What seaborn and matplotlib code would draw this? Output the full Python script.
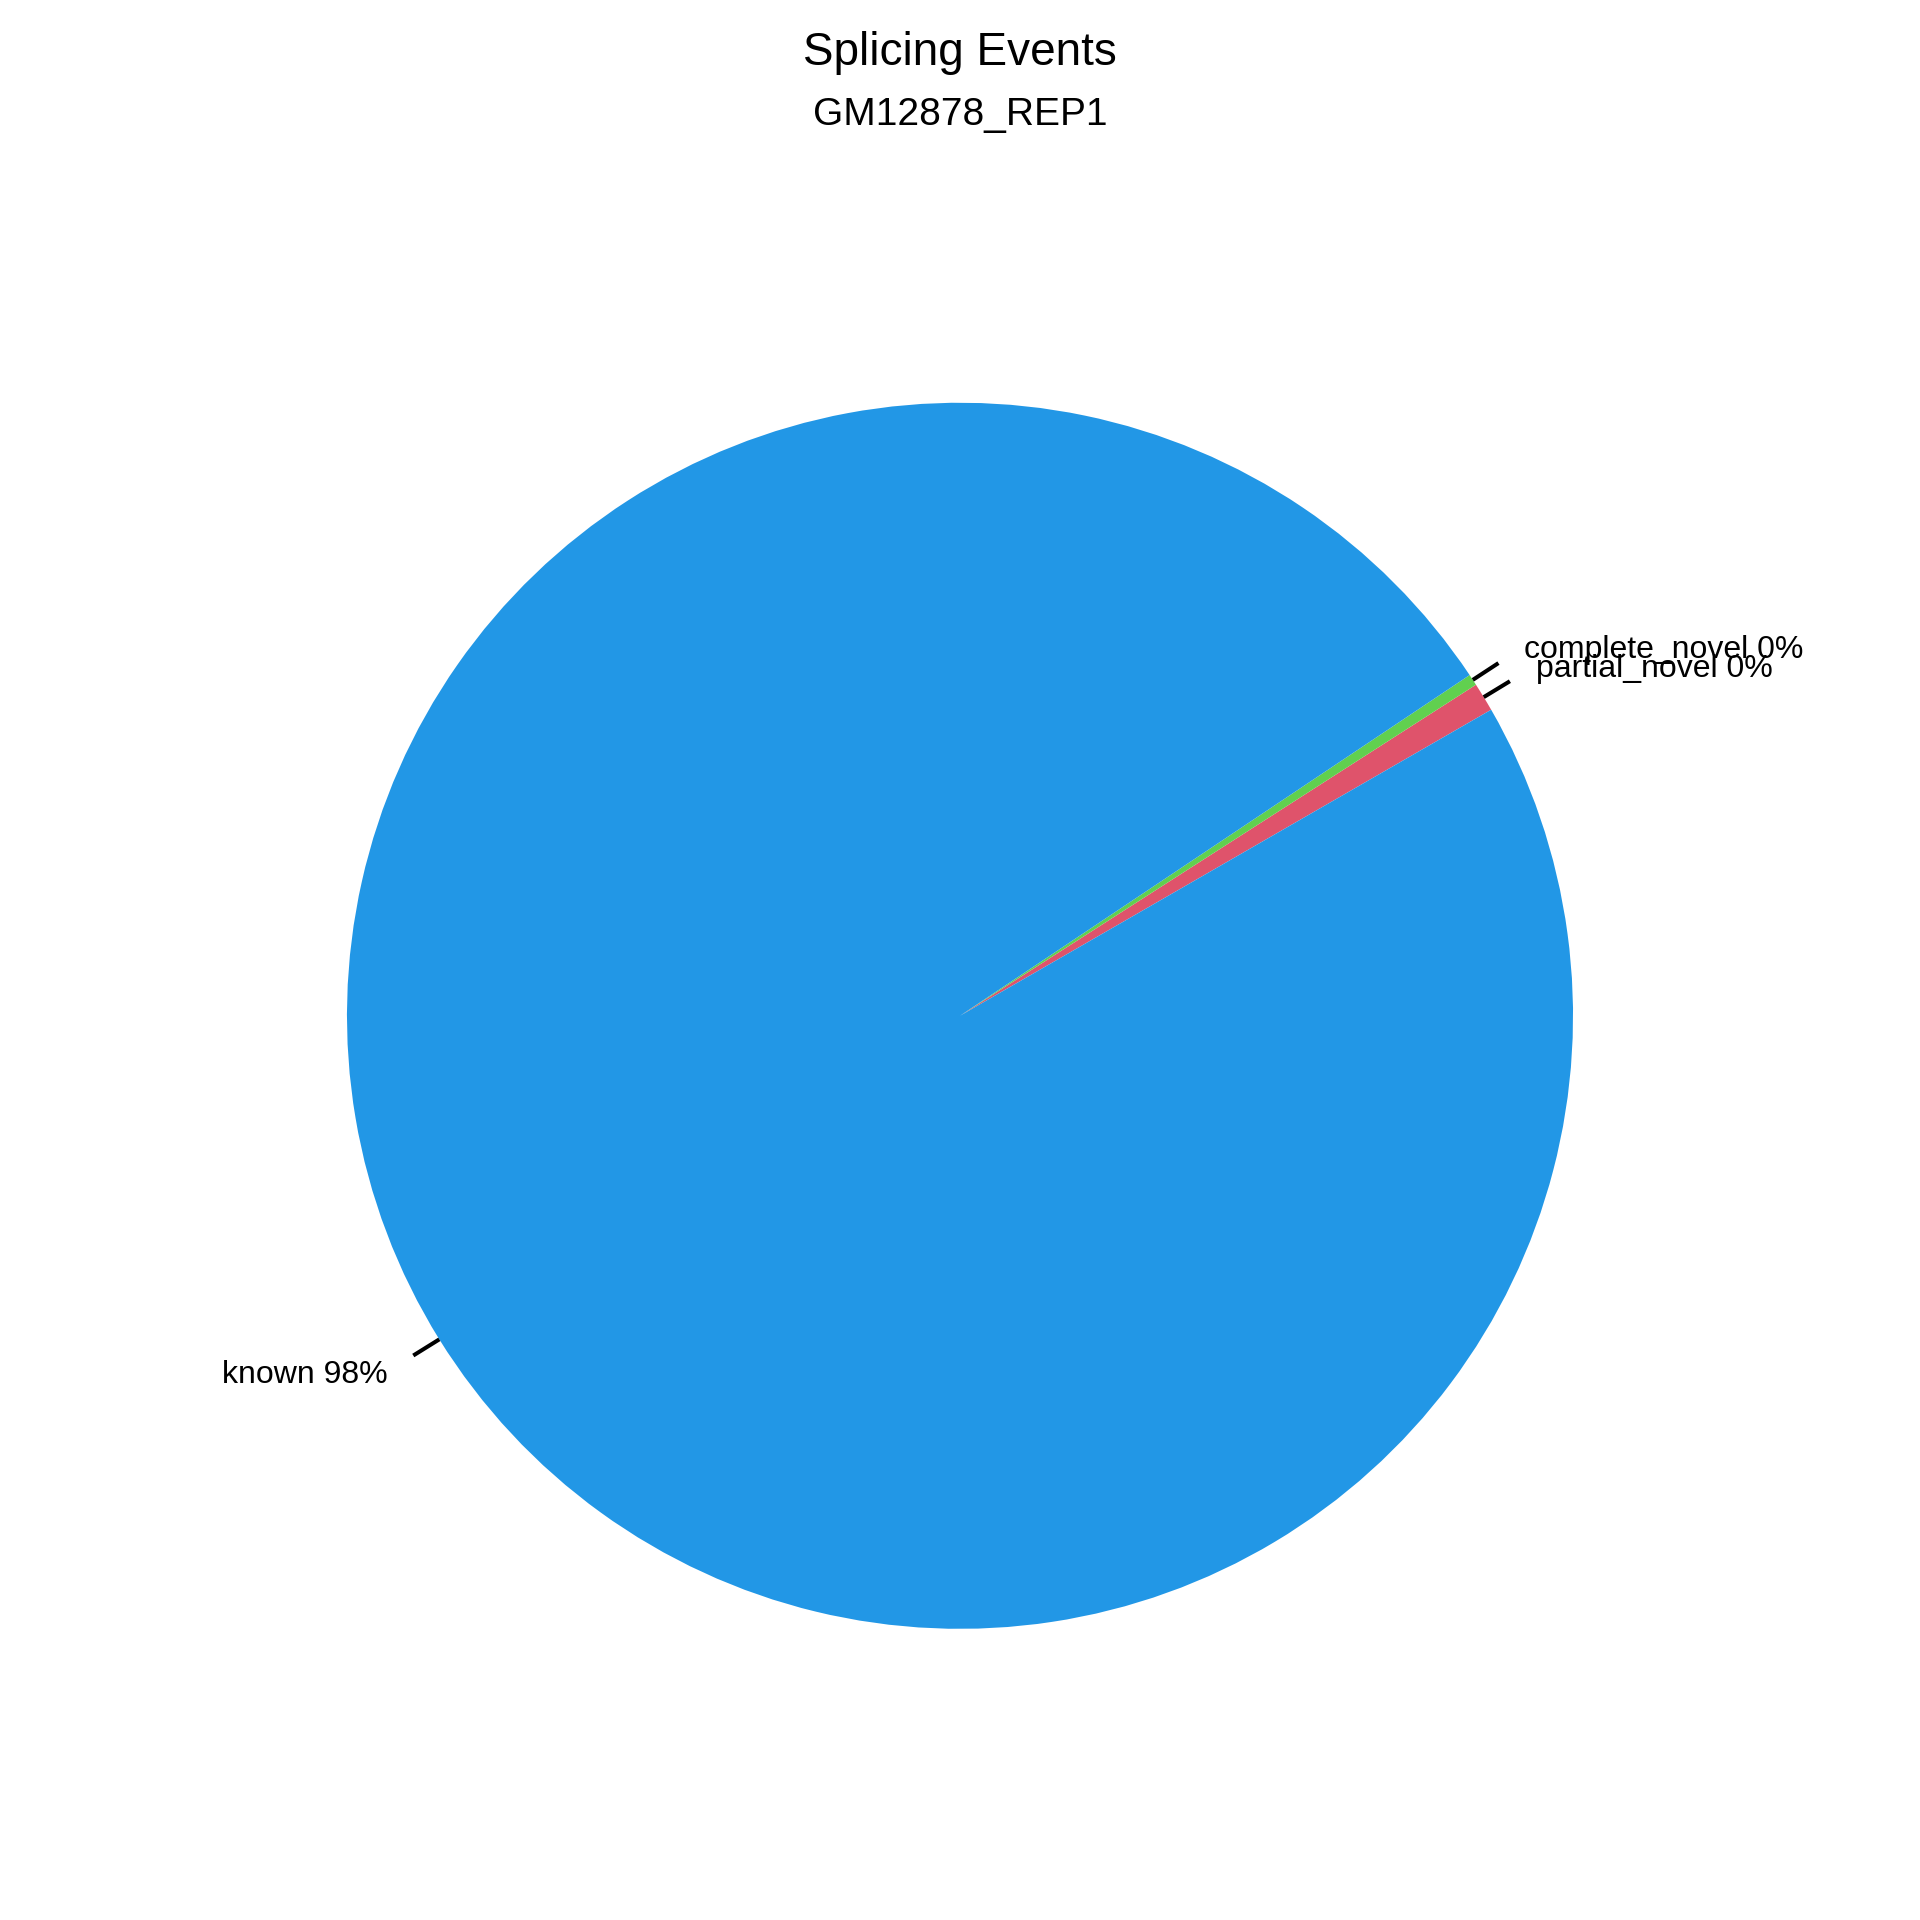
import numpy as np
import matplotlib
matplotlib.use("Agg")
import matplotlib.pyplot as plt
import seaborn as sns

# splicing event shares (percent), in drawing order (counter-clockwise)
categories = ["partial_novel", "complete_novel", "known"]
shares = [0.76, 0.30, 98.94]
colors = ["#DF536B", "#61D04F", "#2297E6"]

sns.set_theme(style="white")
plt.rcParams["font.family"] = ["Liberation Sans", "DejaVu Sans"]
plt.rcParams["text.color"] = "black"

fig = plt.figure(figsize=(19.2, 19.2), dpi=100)
ax = fig.add_axes([0, 0, 1, 1])

wedges, _ = ax.pie(shares, colors=colors, startangle=29.95, counterclock=True,
                   wedgeprops=dict(linewidth=0, antialiased=True))

total = sum(shares)
for w, name, val in zip(wedges, categories, shares):
    mid = np.deg2rad((w.theta1 + w.theta2) / 2)
    cx, cy = np.cos(mid), np.sin(mid)
    ax.plot([cx, 1.05 * cx], [cy, 1.05 * cy], color="black", lw=2.9,
            solid_capstyle="butt")
    # labels truncate the percentage, as the original does
    pct = int(np.floor(100 * val / total))
    ax.text(1.1 * cx, 1.1 * cy, f"{name} {pct}%", fontsize=23, color="black",
            ha="left" if cx > 0 else "right", va="center_baseline")

ax.set_xlim(-1.566, 1.566)
ax.set_ylim(-1.475, 1.657)
ax.set_aspect("equal")
ax.axis("off")

fig.text(0.5, 1 - 65 / 1920, "Splicing Events", fontsize=33, color="black",
         ha="center", va="baseline")
fig.text(0.5, 1 - 125 / 1920, "GM12878_REP1", fontsize=28, color="black",
         ha="center", va="baseline")

fig.savefig("out.png", dpi=100, facecolor="white")
